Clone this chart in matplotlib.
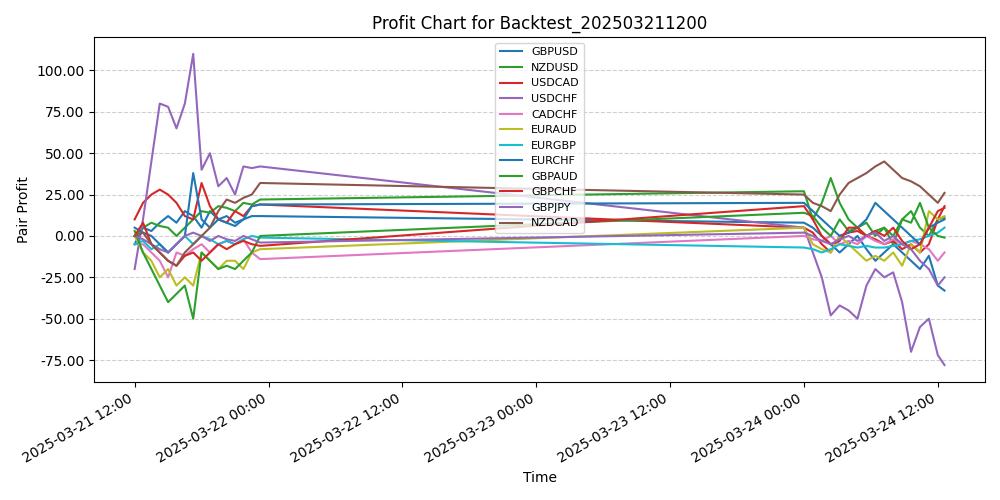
import matplotlib
matplotlib.use("Agg")
import matplotlib.pyplot as plt
import matplotlib.dates as mdates
import numpy as np
import pandas as pd

start1 = pd.Timestamp("2025-03-21 12:00")
start2 = pd.Timestamp("2025-03-24 00:00")
hours1 = [0, 0.75, 1.5, 2.25, 3, 3.75, 4.5, 5.25, 6, 6.75, 7.5, 8.25, 9, 9.75, 10.5, 11.25]
hours2 = [0, 0.8, 1.6, 2.4, 3.2, 4.0, 4.8, 5.6, 6.4, 7.2, 8.0, 8.8, 9.6, 10.4, 11.2, 12.0, 12.6]

pairs = ["GBPUSD", "NZDUSD", "USDCAD", "USDCHF", "CADCHF", "EURAUD", "EURGBP",
         "EURCHF", "GBPAUD", "GBPCHF", "GBPJPY", "NZDCAD"]
colors = ["#1f77b4", "#2ca02c", "#d62728", "#9467bd", "#e377c2", "#bcbd22", "#17becf",
          "#1f77b4", "#2ca02c", "#d62728", "#9467bd", "#8c564b"]

c1 = {
 "GBPUSD": [-5, 5, 3, 8, 12, 8, 15, 12, 5, 15, 10, 12, 8, 10, 12, 12],
 "NZDUSD": [0, 5, 8, 6, 5, 0, 5, 10, 15, 14, 18, 17, 15, 20, 19, 22],
 "USDCAD": [10, 20, 25, 28, 25, 20, 12, 10, 32, 18, 10, 8, 15, 12, 18, 19],
 "USDCHF": [-20, 10, 45, 80, 78, 65, 80, 110, 40, 50, 30, 35, 25, 42, 41, 42],
 "CADCHF": [-5, -5, -10, -15, -25, -10, -12, -8, -5, -10, -5, -3, -5, -2, -10, -14],
 "EURAUD": [0, -10, -15, -25, -20, -30, -25, -30, -10, -15, -20, -15, -15, -20, -10, -8],
 "EURGBP": [-5, -3, -8, -5, -10, -5, 0, -5, 0, -2, -5, -3, -5, -2, 0, -1],
 "EURCHF": [5, 2, 0, -5, -10, -5, 0, 38, 10, 5, 10, 8, 6, 10, 18, 19],
 "GBPAUD": [3, -10, -20, -30, -40, -35, -30, -50, -10, -15, -20, -18, -20, -15, -10, 0],
 "GBPCHF": [0, 8, -5, -10, -15, -18, -12, -10, -15, -10, -5, -8, -5, -3, -5, -6],
 "GBPJPY": [0, -2, -5, -8, -10, -5, 0, 2, 0, -3, 0, -2, -3, 0, -2, -4],
 "NZDCAD": [0, 2, -5, -10, -15, -18, -10, -5, 0, 5, 15, 22, 20, 23, 25, 32],
}
c2 = {
 "GBPUSD": [8, 5, 0, -5, -10, -5, 0, -8, -15, -10, -5, -10, -15, -20, -12, -30, -33],
 "NZDUSD": [27, 10, 20, 35, 20, 10, 5, 8, 0, 5, -5, 10, 15, 5, 0, 10, 11],
 "USDCAD": [5, 2, -5, -10, 0, 2, 3, 0, -2, -5, -3, -8, -5, -10, -5, 10, 18],
 "USDCHF": [5, -10, -25, -48, -42, -45, -50, -30, -20, -25, -22, -40, -70, -55, -50, -72, -78],
 "CADCHF": [0, -2, -3, 0, -5, -3, -5, 0, -3, -5, -2, -5, -3, -5, -8, -15, -10],
 "EURAUD": [5, -5, -8, -10, 0, -5, -10, -15, -12, -15, -10, -18, -5, -10, 15, 10, 12],
 "EURGBP": [-7, -8, -10, -8, -5, -6, -7, -6, -7, -7, -6, -5, -3, -2, 0, 2, 5],
 "EURCHF": [20, 15, 10, 5, 0, 2, 5, 10, 20, 15, 10, 5, 0, -5, 5, 8, 10],
 "GBPAUD": [14, 12, 5, 0, 10, 3, 5, 0, 3, 5, 0, 10, 8, 20, 5, 0, -1],
 "GBPCHF": [18, 10, 0, -5, -3, 5, 5, 0, 3, 0, 5, -3, -8, -5, 5, 15, 17],
 "GBPJPY": [2, 0, -3, -5, -2, 0, -3, 0, 2, -3, 0, -5, -8, -15, -20, -30, -25],
 "NZDCAD": [25, 20, 18, 15, 25, 32, 35, 38, 42, 45, 40, 35, 33, 30, 25, 20, 26],
}

times = [start1 + pd.Timedelta(hours=h) for h in hours1] + \
        [start2 + pd.Timedelta(hours=h) for h in hours2]

fig, ax = plt.subplots(figsize=(10, 5), dpi=100)
for p, col in zip(pairs, colors):
    ax.plot(times, c1[p] + c2[p], color=col, label=p, linewidth=1.5)

ax.set_title("Profit Chart for Backtest_202503211200")
ax.set_xlabel("Time")
ax.set_ylabel("Pair Profit")
ax.grid(axis="y", linestyle="--", alpha=0.6)
ax.yaxis.set_major_formatter(matplotlib.ticker.FormatStrFormatter("%.2f"))
ax.set_yticks(np.arange(-75, 101, 25))
ax.set_ylim(-88, 120)
ax.xaxis.set_major_locator(mdates.HourLocator(byhour=[0, 12]))
ax.xaxis.set_major_formatter(mdates.DateFormatter("%Y-%m-%d %H:%M"))
ax.legend(loc="upper center", fontsize=8)
fig.autofmt_xdate()
fig.tight_layout()
fig.savefig("out.png")
